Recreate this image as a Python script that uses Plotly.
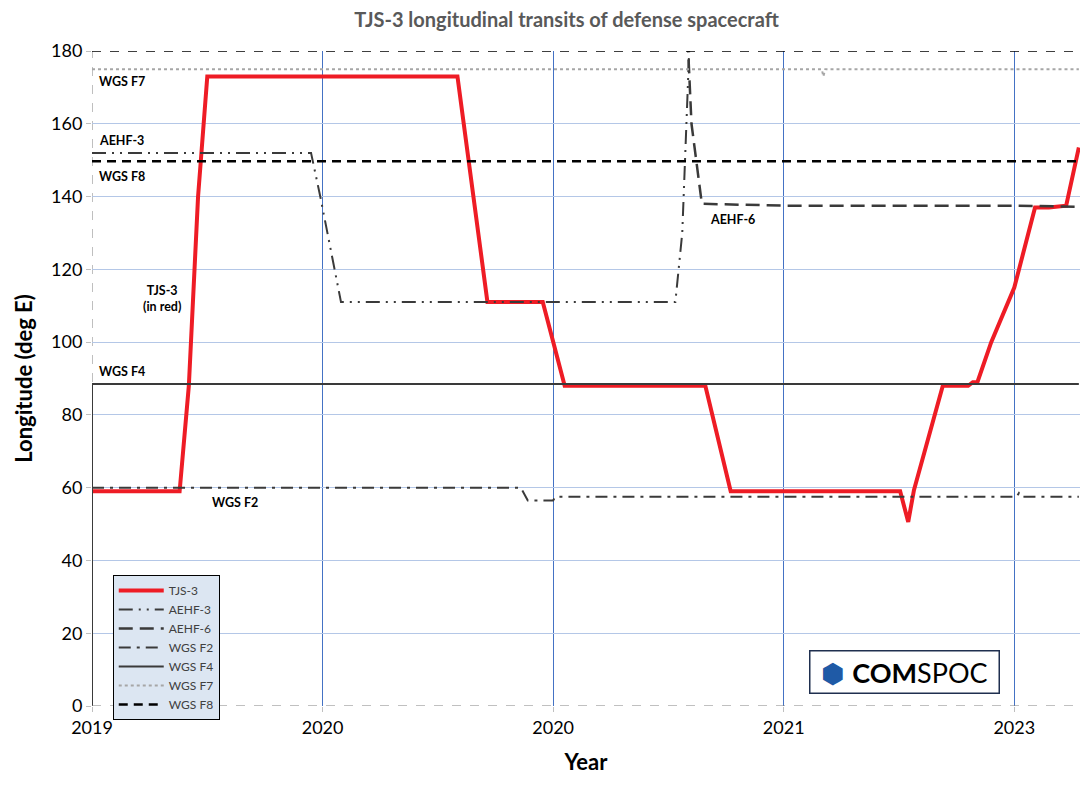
import plotly.graph_objects as go

# x positions are in axis-tick units (0..4 = the five labelled ticks)
tick_pos = [0, 1, 2, 3, 4]
tick_labels = ["2019", "2020", "2020", "2021", "2023"]

tjs3_x = [0, 0.38, 0.42, 0.46, 0.5, 1.585, 1.715, 1.955, 2.05, 2.66, 2.77, 3.505, 3.54, 3.565, 3.69, 3.8, 3.82, 3.84, 3.9, 4.0, 4.09, 4.15, 4.225, 4.28]
tjs3_y = [59, 59, 88, 140, 173, 173, 111, 111, 88, 88, 59, 59, 50.6, 59.4, 88, 88, 89, 89, 100, 115, 137, 137, 137.5, 153.5]

aehf3_x = [0, 0.95, 0.99, 1.08, 2.53, 2.56, 2.59, 2.62]
aehf3_y = [152, 152, 140, 111, 111, 130, 180, 195]

aehf6_x = [2.575, 2.6, 2.645, 3.0, 3.5, 4.0, 4.28]
aehf6_y = [195, 160, 138, 137.5, 137.5, 137.5, 137.2]

wgsf2_x = [0, 1.86, 1.89, 2.0, 2.01, 4.01, 4.02, 4.03, 4.28]
wgsf2_y = [60, 60, 56.5, 56.5, 57.5, 57.5, 58.5, 57.5, 57.5]

wgsf4_x = [0, 0, 4.28]
wgsf4_y = [0, 88.5, 88.5]

wgsf7_x = [0, 3.165, 3.172, 3.18, 4.28]
wgsf7_y = [175, 175, 173, 175, 175]

wgsf8_x = [0, 4.28]
wgsf8_y = [149.7, 149.7]

dark = "#3a3a3a"
fig = go.Figure()
fig.add_trace(go.Scatter(x=tjs3_x, y=tjs3_y, mode="lines", name="TJS-3", line=dict(color="#ee1c25", width=4)))
fig.add_trace(go.Scatter(x=aehf3_x, y=aehf3_y, mode="lines", name="AEHF-3", line=dict(color=dark, width=2, dash="14px,6px,2px,6px,2px,6px")))
fig.add_trace(go.Scatter(x=aehf6_x, y=aehf6_y, mode="lines", name="AEHF-6", line=dict(color=dark, width=2.5, dash="14px,7px")))
fig.add_trace(go.Scatter(x=wgsf2_x, y=wgsf2_y, mode="lines", name="WGS F2", line=dict(color=dark, width=2, dash="12px,6px,3px,6px")))
fig.add_trace(go.Scatter(x=wgsf4_x, y=wgsf4_y, mode="lines", name="WGS F4", line=dict(color=dark, width=2)))
fig.add_trace(go.Scatter(x=wgsf7_x, y=wgsf7_y, mode="lines", name="WGS F7", line=dict(color="#a6a6a6", width=2, dash="dot")))
fig.add_trace(go.Scatter(x=wgsf8_x, y=wgsf8_y, mode="lines", name="WGS F8", line=dict(color="black", width=2.5, dash="9px,6px")))

# dashed plot border (top black, left/bottom grey)
fig.add_shape(type="line", xref="paper", yref="y", x0=0, x1=1, y0=180, y1=180, line=dict(color="black", width=1.5, dash="dash"))
fig.add_shape(type="line", xref="x", yref="paper", x0=0, x1=0, y0=0, y1=1, line=dict(color="#808080", width=1, dash="dash"), layer="below")
fig.add_shape(type="line", xref="paper", yref="y", x0=0, x1=1, y0=0, y1=0, line=dict(color="#808080", width=1, dash="dash"))

lab = dict(size=12.5, color="black", family="Lato")
notes = [
    (0.02, 174.3, "<b>WGS F7</b>", "top"),
    (0.02, 152.8, "<b>AEHF-3</b>", "bottom"),
    (0.02, 148.2, "<b>WGS F8</b>", "top"),
    (0.02, 89.3, "<b>WGS F4</b>", "bottom"),
    (0.51, 58.6, "<b>WGS F2</b>", "top"),
    (2.67, 136.3, "<b>AEHF-6</b>", "top"),
]
for nx, ny, txt, va in notes:
    fig.add_annotation(x=nx, y=ny, text=txt, showarrow=False, xanchor="left", yanchor=va, font=lab)
fig.add_annotation(x=0.305, y=112, text="<b>TJS-3</b><br><b>(in red)</b>", showarrow=False, font=lab, align="center")

# COMSPOC logo box
fig.add_annotation(xref="paper", yref="paper", x=0.822, y=0.018, xanchor="center", yanchor="bottom",
                   text="<span style='color:#1f5aa6'>⬢</span> <b>COM</b>SPOC", showarrow=False,
                   font=dict(size=27, color="black", family="Lato"), bgcolor="white",
                   bordercolor="#1f2f4f", borderwidth=1.5, borderpad=4, width=180)

# page body has an 8px margin, so the figure is sized/shifted to compensate
fig.update_layout(
    width=1074, height=768,
    margin=dict(l=84, r=2, t=43, b=70),
    paper_bgcolor="white", plot_bgcolor="white",
    title=dict(text="<b>TJS-3 longitudinal transits of defense spacecraft</b>", x=0.52, xanchor="center", y=0.985, yanchor="middle",
               font=dict(size=20, color="#595959", family="Lato")),
    font=dict(family="Lato"),
    showlegend=True,
    legend=dict(x=0.021, y=0.2, xanchor="left", yanchor="top", bgcolor="#dce6f2", bordercolor="black", borderwidth=1,
                font=dict(size=12, color="#404040"), tracegroupgap=0, itemwidth=45),
    xaxis=dict(range=[0, 4.285], tickvals=tick_pos, ticktext=tick_labels, showgrid=True, gridcolor="#4472c4", gridwidth=1,
               zeroline=False, showline=False, ticks="outside", ticklen=5, tickcolor="#bfbfbf", automargin=False,
               tickfont=dict(size=18, color="black"), title=dict(text="<b>Year</b>", font=dict(size=22, color="black"), standoff=18)),
    yaxis=dict(range=[0, 180], dtick=20, showgrid=True, gridcolor="#b4c7e7", gridwidth=1, zeroline=False, showline=False,
               ticks="outside", ticklen=5, tickcolor="#bfbfbf", tickfont=dict(size=18, color="black"), automargin=False,
               title=dict(text="<b>Longitude (deg E)</b>", font=dict(size=22, color="black"), standoff=12)),
)
fig.write_html("out.html")
